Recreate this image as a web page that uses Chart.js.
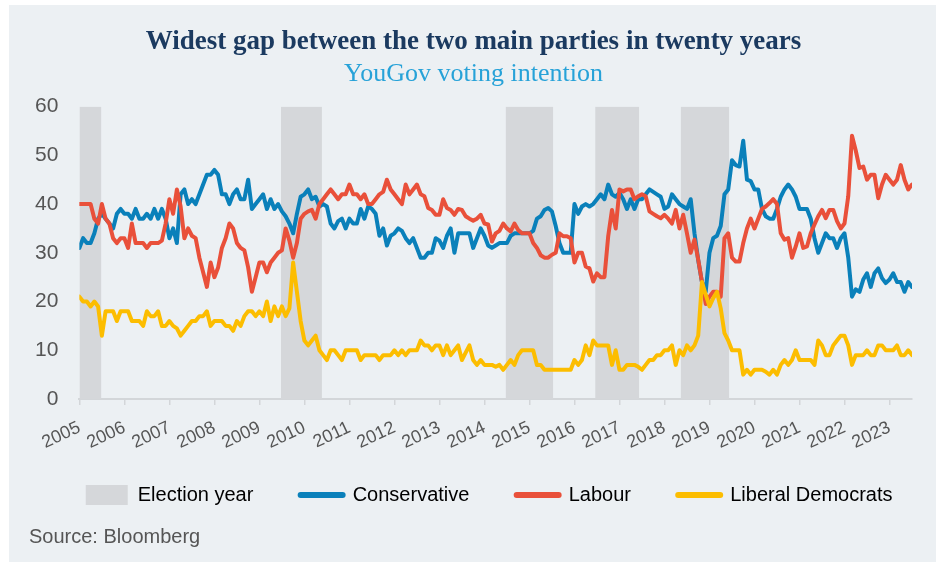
<!DOCTYPE html>
<html>
<head>
<meta charset="utf-8">
<title>YouGov voting intention</title>
<script src="https://cdn.jsdelivr.net/npm/chart.js@4.4.1/dist/chart.umd.min.js"></script>
<style>
  html, body { margin: 0; padding: 0; background: #fff; }
  #panel { position: absolute; left: 9px; top: 5px; width: 927px; height: 557px; background: #ecf0f3; }
  #pollChart { position: absolute; left: 0; top: 0; }
  #source { position: absolute; left: 29px; top: 525px; font: 20px "Liberation Sans", Arial, sans-serif; color: #555; }
</style>
</head>
<body>
<div id="panel"></div>
<canvas id="pollChart" width="940" height="562"></canvas>
<div id="source">Source: Bloomberg</div>
<script>
// monthly YouGov voting intention (%), Jan 2005 to Jul 2023
const startYear = 2005;
const yearTicks = [2005, 2006, 2007, 2008, 2009, 2010, 2011, 2012, 2013, 2014,
                   2015, 2016, 2017, 2018, 2019, 2020, 2021, 2022, 2023];

const conservative = [
  31, 33, 32, 32, 34, 37, 38, 37, 36, 35, 38, 39,
  38, 38, 37, 39, 37, 37, 38, 37, 39, 37, 39, 37,
  33, 35, 32, 42, 43, 40, 41, 40, 42, 44, 46, 46,
  47, 46, 42, 42, 40, 42, 43, 41, 41, 45, 39, 40,
  41, 42, 39, 41, 39, 40, 38.5, 37.5, 36, 34, 38, 41.5,
  42, 43, 41, 41.5, 39.5, 40, 39.5, 36, 35, 36.5, 37, 35,
  37, 36, 36, 39, 37, 39.5, 39, 38, 33.5, 35, 31.5, 33.5,
  34, 35, 34.5, 33, 32, 33, 31, 29, 29, 30, 30, 33,
  32.5, 31, 33.5, 35, 30, 34, 34, 34, 34, 31, 33, 35,
  33.5, 31.5, 31, 31.5, 32, 32, 32, 33.5, 34, 34, 34, 34,
  34, 34.5, 37, 37.5, 38.8, 39.2, 38.5, 35.5, 32, 30, 30, 30,
  40, 38, 39.5, 40, 39.5, 40, 41, 42, 41, 44, 42, 41.5,
  42.3, 41, 39, 41, 39, 41, 41, 42, 43, 42.5, 42, 41.5,
  39, 39.5, 42, 41, 40, 39.5, 39, 41, 34, 28.5, 24, 22,
  30, 33, 33.5, 35.5, 42, 43, 49, 48, 47.7, 53, 45, 44.7,
  43, 43, 39, 37.5, 37, 37, 39, 41.5, 43, 44, 43, 41.5,
  39, 39, 39, 37, 33, 30, 32, 34, 33, 33, 31, 33,
  34, 29, 21, 22.5, 22, 24.5, 25.8, 23, 25.8, 26.8, 24.8, 23.8,
  24.5, 25.8, 24, 24, 22, 24, 23
];

const labour = [
  40, 40, 40, 40, 37, 36, 40, 37, 36, 33, 32, 33,
  33, 31, 36, 32, 32, 32, 31, 32, 32, 32, 32.5, 36,
  41, 38, 43, 39.5, 33, 35, 33.5, 33, 29, 26, 23, 28,
  25, 27, 31, 33, 36, 35, 32, 31, 30.5, 27, 22, 25,
  28, 28, 26, 28, 29, 30, 30.5, 35, 32.5, 29, 32, 37,
  38, 38.5, 38.8, 37, 40, 41, 42, 43, 42, 41, 42, 42,
  44, 42, 42, 41, 42, 40, 40, 41, 42, 42.5, 45, 43,
  42, 41, 40, 44, 42, 43, 44, 42, 41.6, 39.2, 38.8, 37.8,
  37.8, 41, 39.2, 38.8, 37.8, 39, 38.8, 37.5, 37, 36.6, 37, 37.8,
  36, 35.8, 32.3, 34, 34.5, 36, 35, 34.4, 36, 34.7, 34, 34,
  34, 32, 31, 29.5, 29, 29, 29.6, 30, 34, 33.4, 33.4, 33,
  28, 30, 30, 27.2, 26.8, 24.1, 25.8, 25, 25, 33.4, 38.8, 35,
  43, 42.6, 43, 43, 41, 41.6, 42, 41.6, 38.5, 38, 37.5, 37.1,
  37.8, 37, 36, 38.8, 35, 37.8, 34, 30, 32.7, 28.6, 24, 19.5,
  21, 22, 22, 21, 33, 34, 29, 28.2, 28.2, 32, 35, 37,
  35, 37, 39, 39.5, 40.2, 41, 40, 34, 32.7, 33, 29, 31.3,
  34, 31, 31.3, 34, 35.8, 37.5, 38.8, 37.1, 38.8, 38.8, 36.5, 35,
  36, 41.6, 54, 51, 47.4, 47.7, 45, 46, 46, 41.2, 44, 46,
  45, 44, 45, 48, 45, 43, 44
];

const libDem = [
  21, 20, 20, 19, 20, 19, 13, 18, 18, 18, 16, 18,
  18, 18, 16, 16, 16, 15, 18, 17, 17, 18, 15, 15,
  16, 15, 14.5, 13, 14, 15, 16, 16, 17, 17, 18, 15,
  16, 16, 16, 15, 15, 14, 16, 15, 17, 18, 18, 17,
  18, 17, 20, 16, 19, 17, 19, 17, 18.6, 28, 22, 16,
  12, 11, 12, 13, 10, 9, 8, 10, 10, 9, 8, 10,
  10, 10, 10, 8, 9, 9, 9, 9, 8, 9, 9, 9,
  10, 9, 10, 9, 10, 10, 10, 12, 11, 11, 10, 11,
  11, 9, 11, 9, 10, 11, 8, 9.5, 11, 8, 7, 8,
  7, 7, 7, 6.6, 7, 6, 7, 8, 7, 9, 10, 10,
  10, 10, 7, 7, 6, 6, 6, 6, 6, 6, 6, 6,
  8, 7, 8, 11, 9, 12, 11, 11, 11, 11, 7, 10,
  6, 6, 7, 7, 7, 6.6, 6, 7, 8, 8, 9, 9,
  10, 10, 11, 7, 10, 9, 11, 10, 11, 13, 24, 21.4,
  19, 20.7, 22, 18.6, 13.5, 12, 10, 10, 10, 5, 6, 5,
  6, 6, 6, 5.6, 5, 6, 5, 7, 8, 7, 8, 10,
  8, 8, 8, 8, 7, 12, 11, 9, 9, 11, 12, 13,
  13, 11, 7, 9, 9, 9, 10, 9, 9, 11, 11, 10,
  10, 10, 11, 9, 9, 10, 9
];

// shaded election-year windows, as [start, end] in decimal years
const electionBands = [
  [2005.0, 2005.49],
  [2009.48, 2010.39],
  [2014.47, 2015.53],
  [2016.46, 2017.44],
  [2018.36, 2019.44]
];

const colors = {
  con: '#0a80ba',
  lab: '#e9503a',
  lib: '#fcbd00',
  band: '#d5d7da',
  text: '#555555',
  axis: '#d3d6d9'
};

const toPoints = values => values.map((v, i) => ({ x: startYear + i / 12, y: v }));

// each band becomes a flat top at 60 filled down to zero; nulls split them apart
const bandPoints = [];
electionBands.forEach(([from, to]) => {
  bandPoints.push({ x: from, y: 60 }, { x: to, y: 60 }, { x: to, y: null });
});

const lineStyle = color => ({
  borderColor: color,
  backgroundColor: color,
  borderWidth: 4,
  pointRadius: 0,
  borderJoinStyle: 'round',
  borderCapStyle: 'round',
  tension: 0,
  fill: false
});

// legend entries; the trailing blanks widen the gap between items
const gap = '     ';
const legendItems = [
  { text: 'Election year' + gap, fillStyle: colors.band, strokeStyle: colors.band, lineWidth: 0, pointStyle: 'rect', datasetIndex: 3 },
  { text: 'Conservative' + gap, fillStyle: colors.con, strokeStyle: colors.con, lineWidth: 6, lineCap: 'round', pointStyle: 'line', datasetIndex: 2 },
  { text: 'Labour' + gap, fillStyle: colors.lab, strokeStyle: colors.lab, lineWidth: 6, lineCap: 'round', pointStyle: 'line', datasetIndex: 1 },
  { text: 'Liberal Democrats', fillStyle: colors.lib, strokeStyle: colors.lib, lineWidth: 6, lineCap: 'round', pointStyle: 'line', datasetIndex: 0 }
];

Chart.defaults.font.family = '"Liberation Sans", Arial, sans-serif';
Chart.defaults.color = colors.text;

const config = {
  type: 'line',
  data: {
    datasets: [
      { label: 'Liberal Democrats', data: toPoints(libDem), ...lineStyle(colors.lib) },
      { label: 'Labour', data: toPoints(labour), ...lineStyle(colors.lab) },
      { label: 'Conservative', data: toPoints(conservative), ...lineStyle(colors.con) },
      {
        label: 'Election year',
        data: bandPoints,
        borderColor: colors.band,
        backgroundColor: colors.band,
        borderWidth: 0,
        pointRadius: 0,
        spanGaps: false,
        fill: 'origin'
      }
    ]
  },
  options: {
    responsive: false,
    animation: false,
    layout: { padding: { left: 35, right: 28, top: 0, bottom: 47 } },
    plugins: {
      title: {
        display: true,
        text: 'Widest gap between the two main parties in twenty years',
        color: '#1b3a60',
        font: { family: '"Liberation Serif", serif', size: 27, weight: 'bold' },
        padding: { top: 26, bottom: 0 }
      },
      subtitle: {
        display: true,
        text: 'YouGov voting intention',
        color: '#27a2d8',
        font: { family: '"Liberation Serif", serif', size: 26 },
        padding: { top: 0, bottom: 17 }
      },
      legend: {
        position: 'bottom',
        align: 'end',
        labels: {
          usePointStyle: true,
          pointStyleWidth: 42,
          boxHeight: 20,
          padding: 19.5,
          color: colors.text,
          font: { size: 20 },
          generateLabels: () => legendItems
        }
      },
      tooltip: { enabled: false }
    },
    scales: {
      x: {
        type: 'linear',
        min: 2005,
        max: startYear + (conservative.length - 1) / 12,
        afterBuildTicks: scale => { scale.ticks = yearTicks.map(y => ({ value: y })); },
        afterFit: scale => { scale.paddingLeft = 0; scale.paddingRight = 0; },
        grid: { drawOnChartArea: false, drawTicks: true, tickLength: 6, color: colors.axis, lineWidth: 1.5 },
        border: { display: true, color: colors.axis, width: 2 },
        ticks: {
          autoSkip: false,
          minRotation: 25,
          maxRotation: 25,
          padding: 12,
          color: colors.text,
          font: { size: 18 },
          callback: value => String(value)
        }
      },
      y: {
        min: 0,
        max: 60,
        // keep only the gap between labels and plot, not the outer one
        afterFit: scale => { scale.width -= scale.options.ticks.padding; },
        grid: { display: false, drawTicks: false },
        border: { display: false },
        ticks: { stepSize: 10, padding: 21, color: colors.text, font: { size: 21 } }
      }
    }
  }
};

window.addEventListener('load', () => {
  const ctx = document.getElementById('pollChart').getContext('2d');
  new Chart(ctx, config);
});
</script>
</body>
</html>
